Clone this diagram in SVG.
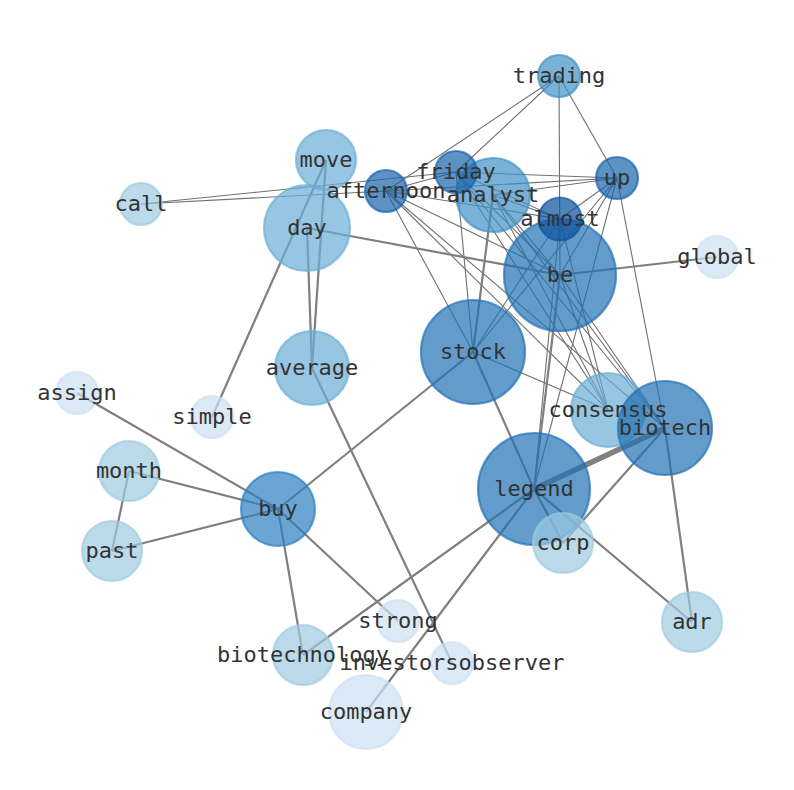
<svg xmlns="http://www.w3.org/2000/svg" width="794" height="790" viewBox="0 0 794 790">
<style>
.e1{stroke:#707070;stroke-width:1.1;fill:none}
.e2{stroke:#7f7f7f;stroke-width:2.2;fill:none}
.e5{stroke:#808080;stroke-width:5.5;fill:none}
circle{stroke-width:2.2;fill-opacity:0.7;stroke-opacity:0.7}
.c1{fill:#cde0f2;stroke:#cde0f2}
.c2{fill:#9ecae1;stroke:#9ecae1}
.c3{fill:#6baed6;stroke:#6baed6}
.c4{fill:#4292c6;stroke:#4292c6}
.c45{fill:#2b7fc0;stroke:#2b7fc0}
.c5{fill:#2171b5;stroke:#2171b5}
.c6{fill:#1764ab;stroke:#1764ab}
.c7{fill:#0b559f;stroke:#0b559f;fill-opacity:0.72}
text{font-family:"DejaVu Sans Mono","Liberation Mono",monospace;font-size:22px;fill:#333;text-anchor:middle;dominant-baseline:central}
</style>
<rect width="794" height="790" fill="#fff"/>
<g id="edges">
<line class="e1" x1="559" y1="76" x2="456" y2="172"/>
<line class="e1" x1="559" y1="76" x2="386" y2="191"/>
<line class="e1" x1="559" y1="76" x2="560" y2="275"/>
<line class="e1" x1="559" y1="76" x2="617" y2="178"/>
<line class="e1" x1="141" y1="204" x2="456" y2="172"/>
<line class="e1" x1="141" y1="204" x2="386" y2="191"/>
<line class="e1" x1="386" y1="191" x2="456" y2="172"/>
<line class="e1" x1="386" y1="191" x2="617" y2="178"/>
<line class="e1" x1="386" y1="191" x2="560" y2="219"/>
<line class="e1" x1="386" y1="191" x2="560" y2="275"/>
<line class="e1" x1="386" y1="191" x2="473" y2="352"/>
<line class="e1" x1="386" y1="191" x2="608" y2="410"/>
<line class="e1" x1="386" y1="191" x2="665" y2="428"/>
<line class="e1" x1="456" y1="172" x2="617" y2="178"/>
<line class="e1" x1="456" y1="172" x2="560" y2="219"/>
<line class="e1" x1="456" y1="172" x2="560" y2="275"/>
<line class="e1" x1="456" y1="172" x2="473" y2="352"/>
<line class="e1" x1="456" y1="172" x2="608" y2="410"/>
<line class="e1" x1="456" y1="172" x2="665" y2="428"/>
<line class="e1" x1="493" y1="195" x2="617" y2="178"/>
<line class="e1" x1="493" y1="195" x2="560" y2="219"/>
<line class="e1" x1="493" y1="195" x2="608" y2="410"/>
<line class="e1" x1="493" y1="195" x2="665" y2="428"/>
<line class="e1" x1="493" y1="195" x2="560" y2="275"/>
<line class="e1" x1="617" y1="178" x2="560" y2="219"/>
<line class="e1" x1="617" y1="178" x2="473" y2="352"/>
<line class="e1" x1="617" y1="178" x2="534" y2="489"/>
<line class="e1" x1="617" y1="178" x2="665" y2="428"/>
<line class="e1" x1="617" y1="178" x2="560" y2="275"/>
<line class="e1" x1="560" y1="219" x2="473" y2="352"/>
<line class="e1" x1="560" y1="219" x2="608" y2="410"/>
<line class="e1" x1="560" y1="219" x2="534" y2="489"/>
<line class="e1" x1="560" y1="275" x2="608" y2="410"/>
<line class="e1" x1="560" y1="275" x2="665" y2="428"/>
<line class="e1" x1="473" y1="352" x2="608" y2="410"/>
<line class="e2" x1="307" y1="228" x2="560" y2="275"/>
<line class="e2" x1="560" y1="275" x2="717" y2="257"/>
<line class="e2" x1="326" y1="160" x2="312" y2="368"/>
<line class="e2" x1="307" y1="228" x2="312" y2="368"/>
<line class="e2" x1="326" y1="160" x2="212" y2="417"/>
<line class="e2" x1="493" y1="195" x2="473" y2="352"/>
<line class="e2" x1="560" y1="275" x2="534" y2="489"/>
<line class="e2" x1="473" y1="352" x2="534" y2="489"/>
<line class="e2" x1="473" y1="352" x2="278" y2="509"/>
<line class="e2" x1="534" y1="489" x2="563" y2="543"/>
<line class="e2" x1="534" y1="489" x2="692" y2="622"/>
<line class="e2" x1="534" y1="489" x2="303" y2="655"/>
<line class="e2" x1="534" y1="489" x2="366" y2="712"/>
<line class="e2" x1="665" y1="428" x2="563" y2="543"/>
<line class="e2" x1="665" y1="428" x2="692" y2="622"/>
<line class="e2" x1="278" y1="509" x2="77" y2="393"/>
<line class="e2" x1="278" y1="509" x2="129" y2="471"/>
<line class="e2" x1="278" y1="509" x2="112" y2="551"/>
<line class="e2" x1="129" y1="471" x2="112" y2="551"/>
<line class="e2" x1="278" y1="509" x2="398" y2="621"/>
<line class="e2" x1="278" y1="509" x2="303" y2="655"/>
<line class="e2" x1="312" y1="368" x2="452" y2="663"/>
<line class="e5" x1="534" y1="489" x2="665" y2="428"/>
</g>
<g id="nodes">
<g id="node-trading"><circle class="c4" cx="559" cy="76" r="21"/></g>
<g id="node-move"><circle class="c3" cx="326" cy="160" r="30"/></g>
<g id="node-call"><circle class="c2" cx="141" cy="204" r="21"/></g>
<g id="node-analyst"><circle class="c4" cx="493" cy="195" r="37"/></g>
<g id="node-friday"><circle class="c6" cx="456" cy="172" r="21"/></g>
<g id="node-afternoon"><circle class="c6" cx="386" cy="191" r="21"/></g>
<g id="node-up"><circle class="c6" cx="617" cy="178" r="21"/></g>
<g id="node-day"><circle class="c3" cx="307" cy="228" r="43"/></g>
<g id="node-be"><circle class="c5" cx="560" cy="275" r="56"/></g>
<g id="node-almost"><circle class="c7" cx="560" cy="219" r="21.5"/></g>
<g id="node-global"><circle class="c1" cx="717" cy="257" r="21"/></g>
<g id="node-stock"><circle class="c5" cx="473" cy="352" r="52"/></g>
<g id="node-average"><circle class="c3" cx="312" cy="368" r="37"/></g>
<g id="node-assign"><circle class="c1" cx="77" cy="393" r="21"/></g>
<g id="node-simple"><circle class="c1" cx="212" cy="417" r="21"/></g>
<g id="node-consensus"><circle class="c3" cx="608" cy="410" r="37"/></g>
<g id="node-biotech"><circle class="c5" cx="665" cy="428" r="47"/></g>
<g id="node-month"><circle class="c2" cx="129" cy="471" r="30"/></g>
<g id="node-buy"><circle class="c45" cx="278" cy="509" r="37"/></g>
<g id="node-legend"><circle class="c5" cx="534" cy="489" r="56"/></g>
<g id="node-past"><circle class="c2" cx="112" cy="551" r="30"/></g>
<g id="node-corp"><circle class="c2" cx="563" cy="543" r="30"/></g>
<g id="node-adr"><circle class="c2" cx="692" cy="622" r="30"/></g>
<g id="node-strong"><circle class="c1" cx="398" cy="621" r="21"/></g>
<g id="node-biotechnology"><circle class="c2" cx="303" cy="655" r="30"/></g>
<g id="node-investorsobserver"><circle class="c1" cx="452" cy="663" r="21"/></g>
<g id="node-company"><circle class="c1" cx="366" cy="712" r="37"/></g>
</g>
<g id="labels">
<text id="label-trading" x="559" y="75">trading</text>
<text id="label-move" x="326" y="159">move</text>
<text id="label-call" x="141" y="203">call</text>
<text id="label-analyst" x="493" y="194">analyst</text>
<text id="label-friday" x="456" y="171">friday</text>
<text id="label-afternoon" x="386" y="190">afternoon</text>
<text id="label-up" x="617" y="177">up</text>
<text id="label-day" x="307" y="227">day</text>
<text id="label-be" x="560" y="274">be</text>
<text id="label-almost" x="560" y="218">almost</text>
<text id="label-global" x="717" y="256">global</text>
<text id="label-stock" x="473" y="351">stock</text>
<text id="label-average" x="312" y="367">average</text>
<text id="label-assign" x="77" y="392">assign</text>
<text id="label-simple" x="212" y="416">simple</text>
<text id="label-consensus" x="608" y="409">consensus</text>
<text id="label-biotech" x="665" y="427">biotech</text>
<text id="label-month" x="129" y="470">month</text>
<text id="label-buy" x="278" y="508">buy</text>
<text id="label-legend" x="534" y="488">legend</text>
<text id="label-past" x="112" y="550">past</text>
<text id="label-corp" x="563" y="542">corp</text>
<text id="label-adr" x="692" y="621">adr</text>
<text id="label-strong" x="398" y="620">strong</text>
<text id="label-biotechnology" x="303" y="654">biotechnology</text>
<text id="label-investorsobserver" x="452" y="662">investorsobserver</text>
<text id="label-company" x="366" y="711">company</text>
</g>
</svg>
